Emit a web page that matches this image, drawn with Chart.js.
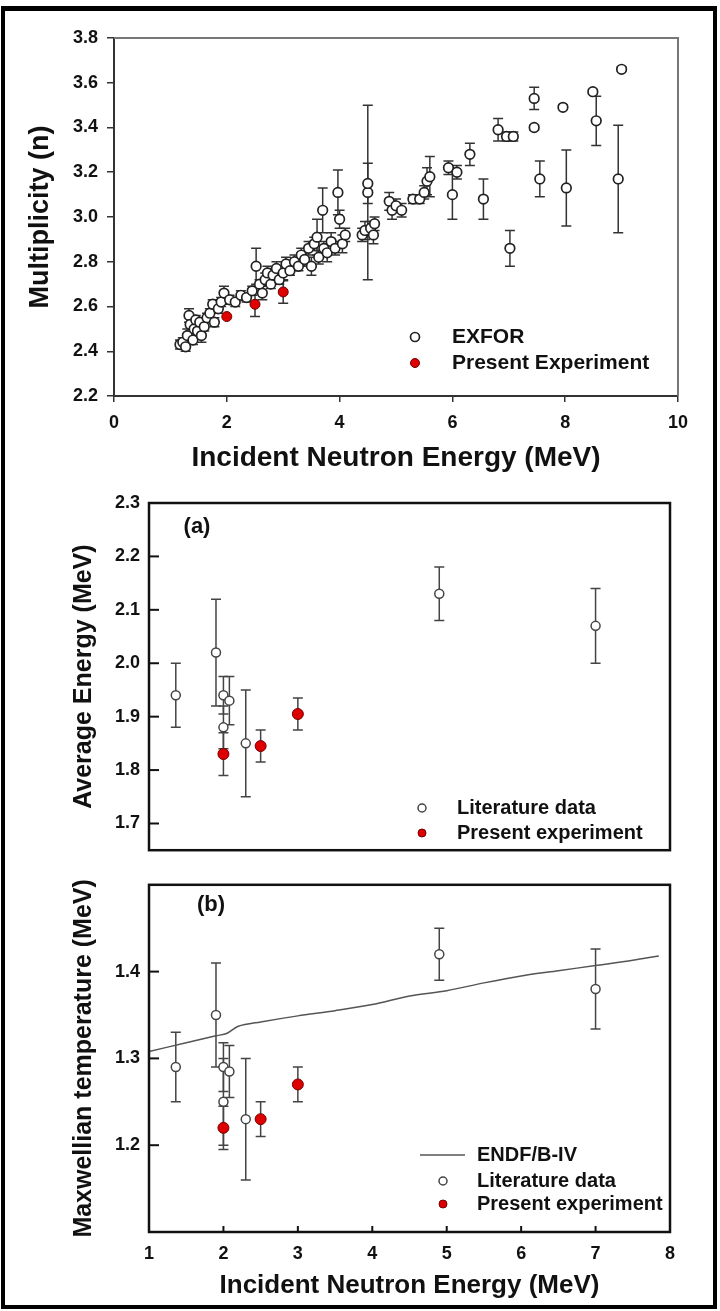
<!DOCTYPE html>
<html>
<head>
<meta charset="utf-8">
<script src="https://cdn.jsdelivr.net/npm/chart.js@4.4.1/dist/chart.umd.min.js"></script>
<style>
  html, body { margin: 0; padding: 0; background: #fff; }
  #page { position: relative; width: 720px; height: 1311px; overflow: hidden; background: #fff; }
  #frame { position: absolute; left: 1px; top: 6px; width: 716px; height: 1303px; box-sizing: border-box;
           border: 4px solid #000; border-top-width: 5px; }
  canvas { position: absolute; left: 0; }
</style>
</head>
<body>
<div id="page">
  <div id="frame"></div>
  <canvas id="multChart" width="720" height="490" style="top:0px"></canvas>
  <canvas id="avgChart" width="720" height="410" style="top:460px"></canvas>
  <canvas id="tempChart" width="720" height="446" style="top:865px"></canvas>
</div>
<script>
// Top panel: neutron multiplicity vs incident energy
const exforEnergy = [1.17, 1.22, 1.27, 1.30, 1.33, 1.35, 1.40, 1.42, 1.45, 1.48,
  1.52, 1.55, 1.60, 1.65, 1.70, 1.75, 1.78, 1.85, 1.90, 1.95,
  2.05, 2.15, 2.25, 2.35, 2.45, 2.52, 2.58, 2.63, 2.68, 2.72,
  2.78, 2.82, 2.88, 2.93, 3.00, 3.05, 3.12, 3.20, 3.27, 3.32,
  3.38, 3.45, 3.50, 3.55, 3.60, 3.63, 3.70, 3.72, 3.78, 3.85,
  3.92, 3.97, 4.00, 4.05, 4.10, 4.40, 4.45, 4.50, 4.50, 4.55,
  4.60, 4.62, 4.88, 4.93, 5.00, 5.10, 5.30, 5.42, 5.50, 5.55,
  5.60, 5.93, 6.00, 6.08, 6.31, 6.55, 6.81, 6.96, 7.02, 7.08,
  7.45, 7.45, 7.55, 7.96, 8.02, 8.49, 8.55, 9.00, 8.94];
const exforMult = [2.43, 2.44, 2.42, 2.47, 2.56, 2.52, 2.45, 2.50, 2.54, 2.49,
  2.53, 2.47, 2.51, 2.55, 2.57, 2.61, 2.53, 2.59, 2.62, 2.66,
  2.63, 2.62, 2.65, 2.64, 2.67, 2.78, 2.70, 2.66, 2.72, 2.75,
  2.70, 2.74, 2.77, 2.72, 2.75, 2.79, 2.76, 2.80, 2.78, 2.83,
  2.81, 2.86, 2.78, 2.88, 2.91, 2.82, 3.03, 2.86, 2.84, 2.89,
  2.86, 3.11, 2.99, 2.88, 2.92, 2.92, 2.94, 3.11, 3.15, 2.95,
  2.92, 2.97, 3.07, 3.03, 3.05, 3.03, 3.08, 3.08, 3.11, 3.16,
  3.18, 3.22, 3.10, 3.20, 3.28, 3.08, 3.39, 3.36, 2.86, 3.36,
  3.53, 3.40, 3.17, 3.49, 3.13, 3.56, 3.43, 3.66, 3.17];
const exforErr = [0.02, 0.02, 0.02, 0.03, 0.03, 0.03, 0.02, 0.03, 0.02, 0.03,
  0.02, 0.03, 0.02, 0.02, 0.02, 0.02, 0.02, 0.02, 0.02, 0.03,
  0.02, 0.02, 0.02, 0.02, 0.02, 0.08, 0.02, 0.03, 0.03, 0.03,
  0.02, 0.03, 0.03, 0.02, 0.03, 0.03, 0.02, 0.03, 0.02, 0.03,
  0.03, 0.03, 0.04, 0.03, 0.08, 0.03, 0.10, 0.03, 0.04, 0.04,
  0.03, 0.10, 0.04, 0.04, 0.03, 0.03, 0.04, 0.39, 0.09, 0.03,
  0.04, 0.03, 0.04, 0.04, 0.03, 0.03, 0.02, 0.02, 0.03, 0.06,
  0.09, 0.03, 0.11, 0.03, 0.05, 0.09, 0.05, 0.02, 0.08, 0.02,
  0.05, 0.01, 0.08, 0.01, 0.17, 0.01, 0.11, 0.01, 0.24];
const presentEnergy = [2.0, 2.5, 3.0];
const presentMult = [2.555, 2.61, 2.665];
const presentMultErr = [0, 0.055, 0.05];
const multXTicks = [0, 2, 4, 6, 8, 10];
const multYTicks = [2.2, 2.4, 2.6, 2.8, 3.0, 3.2, 3.4, 3.6, 3.8];

// Panel (a): average energy
const litEnergy = [1.36, 1.9, 2.0, 2.0, 2.08, 2.3, 4.9, 7.0];
const litAvgE = [1.94, 2.02, 1.94, 1.88, 1.93, 1.85, 2.13, 2.07];
const litAvgErr = [0.06, 0.10, 0.035, 0.04, 0.045, 0.10, 0.05, 0.07];
const presAvgE = [1.83, 1.845, 1.905];
const presAvgErr = [0.04, 0.03, 0.03];
const avgYTicks = [1.7, 1.8, 1.9, 2.0, 2.1, 2.2, 2.3];

// Panel (b): Maxwellian temperature
const litTemp = [1.29, 1.35, 1.29, 1.25, 1.285, 1.23, 1.42, 1.38];
const litTempErr = [0.04, 0.06, 0.028, 0.05, 0.03, 0.07, 0.03, 0.046];
const presTemp = [1.22, 1.23, 1.27];
const presTempErr = [0.025, 0.02, 0.02];
const endfEnergy = [1.0, 1.5, 1.9, 2.05, 2.2, 2.5, 3.0, 3.5, 4.0, 4.5, 5.0, 5.5, 6.0, 6.5, 7.0, 7.5, 7.85];
const endfTemp = [1.308, 1.318, 1.326, 1.329, 1.337, 1.342, 1.349, 1.355, 1.362, 1.372, 1.378, 1.387, 1.395, 1.401, 1.407, 1.413, 1.418];
const tempYTicks = [1.2, 1.3, 1.4];
const energyTicks = [1, 2, 3, 4, 5, 6, 7, 8];

const FONT = "'Liberation Sans', Arial, sans-serif";
const INK = "#111";
Chart.defaults.font.family = FONT;
Chart.defaults.font.weight = "bold";
Chart.defaults.color = INK;

function pts(xs, ys) {
  return xs.map((x, i) => ({ x: x, y: ys[i] }));
}
function fixedTicks(arr) {
  return function (scale) {
    scale.ticks = arr.map((v) => ({ value: v }));
  };
}

// vertical error bars with caps, drawn under the markers
const errorBarPlugin = {
  id: "errorBars",
  beforeDatasetsDraw(chart) {
    const ctx = chart.ctx;
    const xs = chart.scales.x;
    const ys = chart.scales.y;
    chart.data.datasets.forEach((ds) => {
      if (!ds.errors) return;
      ctx.save();
      ctx.strokeStyle = ds.errorColor || "#333";
      ctx.lineWidth = 1.5;
      const cap = ds.capWidth || 5;
      ds.data.forEach((p, j) => {
        const e = ds.errors[j];
        if (!e) return;
        const x = xs.getPixelForValue(p.x);
        const y1 = ys.getPixelForValue(p.y + e);
        const y2 = ys.getPixelForValue(p.y - e);
        ctx.beginPath();
        ctx.moveTo(x, y1);
        ctx.lineTo(x, y2);
        ctx.moveTo(x - cap, y1);
        ctx.lineTo(x + cap, y1);
        ctx.moveTo(x - cap, y2);
        ctx.lineTo(x + cap, y2);
        ctx.stroke();
      });
      ctx.restore();
    });
  },
};

// frame, inward ticks, legend and panel label
const decorPlugin = {
  id: "decor",
  afterDraw(chart, args, opts) {
    const ctx = chart.ctx;
    const a = chart.chartArea;
    ctx.save();
    if (opts.openFrame) {
      ctx.strokeStyle = "#777";
      ctx.lineWidth = 2;
      ctx.beginPath();
      ctx.moveTo(a.left, a.top);
      ctx.lineTo(a.right, a.top);
      ctx.lineTo(a.right, a.bottom);
      ctx.stroke();
    }
    if (opts.box) {
      ctx.strokeStyle = "#111";
      ctx.lineWidth = 2.5;
      ctx.strokeRect(a.left, a.top, a.right - a.left, a.bottom - a.top);
    }
    if (opts.innerTicks) {
      ctx.strokeStyle = "#111";
      ctx.lineWidth = 2;
      const ys = chart.scales.y;
      ys.ticks.forEach((t) => {
        const y = ys.getPixelForValue(t.value);
        ctx.beginPath();
        ctx.moveTo(a.left, y);
        ctx.lineTo(a.left + 10, y);
        ctx.stroke();
      });
      if (opts.innerTicks.x) {
        const xs = chart.scales.x;
        xs.ticks.forEach((t) => {
          const x = xs.getPixelForValue(t.value);
          ctx.beginPath();
          ctx.moveTo(x, a.bottom);
          ctx.lineTo(x, a.bottom - 6);
          ctx.stroke();
        });
      }
    }
    if (opts.legend) {
      const L = opts.legend;
      ctx.font = "bold " + L.size + "px " + FONT;
      ctx.textBaseline = "middle";
      ctx.textAlign = "left";
      L.items.forEach((it) => {
        const ds = chart.data.datasets[it.ds];
        if (ds.showLine) {
          ctx.strokeStyle = ds.borderColor;
          ctx.lineWidth = ds.borderWidth;
          ctx.beginPath();
          ctx.moveTo(L.lineFrom, it.y);
          ctx.lineTo(L.lineTo, it.y);
          ctx.stroke();
        } else {
          ctx.beginPath();
          ctx.arc(L.symbolX, it.y, L.radius, 0, Math.PI * 2);
          ctx.fillStyle = ds.backgroundColor;
          ctx.fill();
          ctx.lineWidth = ds.pointBorderWidth || 1;
          ctx.strokeStyle = ds.borderColor;
          ctx.stroke();
        }
        ctx.fillStyle = INK;
        ctx.fillText(ds.label, L.textX, it.y);
      });
    }
    if (opts.panel) {
      ctx.font = "bold 22px " + FONT;
      ctx.fillStyle = INK;
      ctx.textAlign = "center";
      ctx.textBaseline = "middle";
      ctx.fillText(opts.panel.text, opts.panel.x, opts.panel.y);
    }
    ctx.restore();
  },
};

const openMarker = { pointRadius: 4.8, pointHoverRadius: 4.8, pointBorderWidth: 1.7, borderColor: "#222", backgroundColor: "#fff", errorColor: "#333" };
const redMarker = { pointRadius: 5, pointHoverRadius: 5, pointBorderWidth: 1, borderColor: "#6a0000", backgroundColor: "#e00000", errorColor: "#333" };

// top panel
new Chart(document.getElementById("multChart"), {
  type: "scatter",
  data: {
    datasets: [
      Object.assign({ label: "Present Experiment", data: pts(presentEnergy, presentMult), errors: presentMultErr }, redMarker),
      Object.assign({ label: "EXFOR", data: pts(exforEnergy, exforMult), errors: exforErr }, openMarker),
    ],
  },
  options: {
    responsive: false,
    animation: false,
    layout: { padding: { left: 0, top: 38, right: 42, bottom: 0 } },
    plugins: {
      legend: { display: false },
      tooltip: { enabled: false },
      decor: {
        openFrame: true,
        legend: { size: 21, symbolX: 415, textX: 452, radius: 4.5, items: [{ ds: 1, y: 337 }, { ds: 0, y: 363 }] },
      },
    },
    scales: {
      x: {
        type: "linear", min: 0, max: 10,
        afterBuildTicks: fixedTicks(multXTicks),
        afterFit: (s) => { s.height = 94; },
        ticks: { padding: 10, font: { size: 18, weight: "bold" }, maxRotation: 0, autoSkip: false },
        grid: { drawOnChartArea: false, tickLength: 6, color: "#333", lineWidth: 1.5 },
        border: { color: "#333", width: 2 },
        title: { display: true, text: "Incident Neutron Energy (MeV)", font: { size: 28, weight: "bold" }, padding: { top: 0, bottom: 15 } },
      },
      y: {
        type: "linear", min: 2.2, max: 3.8,
        afterBuildTicks: fixedTicks(multYTicks),
        afterFit: (s) => { s.width = 114; },
        ticks: { padding: 9, font: { size: 18, weight: "bold" }, callback: (v) => Number(v).toFixed(1), autoSkip: false },
        grid: { drawOnChartArea: false, tickLength: 7, color: "#333", lineWidth: 1.5 },
        border: { color: "#333", width: 2 },
        title: { display: true, text: "Multiplicity (n)", font: { size: 27, weight: "bold" }, padding: { top: 24, bottom: 0 } },
      },
    },
  },
  plugins: [errorBarPlugin, decorPlugin],
});

const litMarker = { pointRadius: 4.5, pointHoverRadius: 4.5, pointBorderWidth: 1.5, borderColor: "#444", backgroundColor: "#fff", errorColor: "#444" };
const presMarker = { pointRadius: 5.5, pointHoverRadius: 5.5, pointBorderWidth: 1, borderColor: "#700", backgroundColor: "#dd0000", errorColor: "#444" };

// panel (a)
new Chart(document.getElementById("avgChart"), {
  type: "scatter",
  data: {
    datasets: [
      Object.assign({ label: "Present experiment", data: pts(presentEnergy, presAvgE), errors: presAvgErr }, presMarker),
      Object.assign({ label: "Literature data", data: pts(litEnergy, litAvgE), errors: litAvgErr }, litMarker),
    ],
  },
  options: {
    responsive: false,
    animation: false,
    layout: { padding: { left: 0, top: 43, right: 50, bottom: 3 } },
    plugins: {
      legend: { display: false },
      tooltip: { enabled: false },
      decor: {
        box: true,
        innerTicks: { x: false },
        panel: { text: "(a)", x: 197, y: 67 },
        legend: { size: 20, symbolX: 422, textX: 457, radius: 4, items: [{ ds: 1, y: 348 }, { ds: 0, y: 373 }] },
      },
    },
    scales: {
      x: { type: "linear", min: 1, max: 8, display: false },
      y: {
        type: "linear", min: 1.65, max: 2.3,
        afterBuildTicks: fixedTicks(avgYTicks),
        afterFit: (s) => { s.width = 149; },
        ticks: { padding: 9, font: { size: 18, weight: "bold" }, callback: (v) => Number(v).toFixed(1), autoSkip: false },
        grid: { display: false, drawTicks: false },
        border: { display: false },
        title: { display: true, text: "Average Energy (MeV)", font: { size: 25, weight: "bold" }, padding: { top: 69, bottom: 0 } },
      },
    },
  },
  plugins: [errorBarPlugin, decorPlugin],
});

// panel (b)
new Chart(document.getElementById("tempChart"), {
  type: "scatter",
  data: {
    datasets: [
      Object.assign({ label: "Present experiment", data: pts(presentEnergy, presTemp), errors: presTempErr }, presMarker),
      Object.assign({ label: "Literature data", data: pts(litEnergy, litTemp), errors: litTempErr }, litMarker),
      { label: "ENDF/B-IV", data: pts(endfEnergy, endfTemp), showLine: true, pointRadius: 0, pointHoverRadius: 0,
        borderColor: "#555", borderWidth: 1.5, tension: 0.3, fill: false },
    ],
  },
  options: {
    responsive: false,
    animation: false,
    layout: { padding: { left: 0, top: 2, right: 50, bottom: 0 } },
    plugins: {
      legend: { display: false },
      tooltip: { enabled: false },
      decor: {
        box: true,
        innerTicks: { x: true },
        panel: { text: "(b)", x: 211, y: 40 },
        legend: { size: 20, symbolX: 443, textX: 477, radius: 4, lineFrom: 420, lineTo: 465,
          items: [{ ds: 2, y: 290 }, { ds: 1, y: 316 }, { ds: 0, y: 339 }] },
      },
    },
    scales: {
      x: {
        type: "linear", min: 1, max: 8,
        afterBuildTicks: fixedTicks(energyTicks),
        afterFit: (s) => { s.height = 79; },
        ticks: { padding: 11, font: { size: 18, weight: "bold" }, maxRotation: 0, autoSkip: false },
        grid: { display: false, drawTicks: false },
        border: { display: false },
        title: { display: true, text: "Incident Neutron Energy (MeV)", font: { size: 26, weight: "bold" }, padding: { top: 0, bottom: 10 } },
      },
      y: {
        type: "linear", min: 1.1, max: 1.5,
        afterBuildTicks: fixedTicks(tempYTicks),
        afterFit: (s) => { s.width = 149; },
        ticks: { padding: 9, font: { size: 18, weight: "bold" }, callback: (v) => Number(v).toFixed(1), autoSkip: false },
        grid: { display: false, drawTicks: false },
        border: { display: false },
        title: { display: true, text: "Maxwellian temperature (MeV)", font: { size: 25, weight: "bold" }, padding: { top: 69, bottom: 0 } },
      },
    },
  },
  plugins: [errorBarPlugin, decorPlugin],
});
</script>
</body>
</html>
